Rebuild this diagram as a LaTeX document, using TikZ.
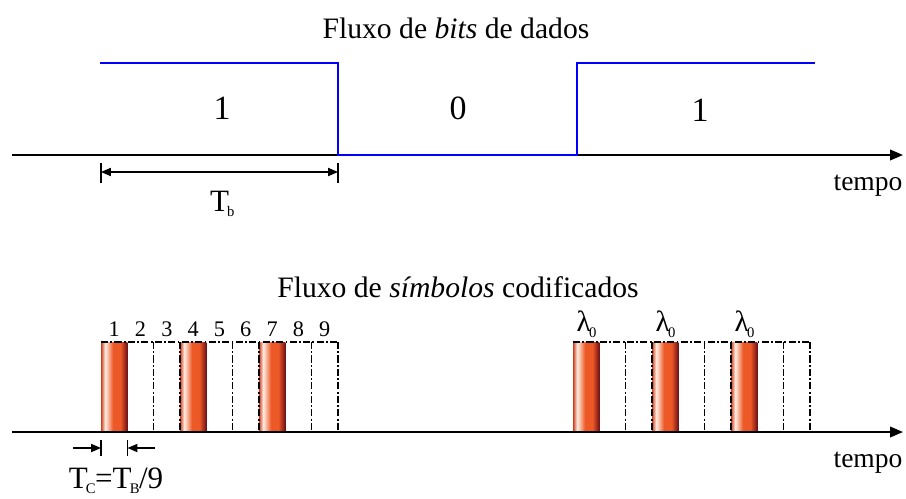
\documentclass[tikz,border=0pt]{standalone}
\usepackage{fontspec}
\setmainfont{Liberation Serif}
\usepackage{xcolor}
\usetikzlibrary{positioning}
\usetikzlibrary{arrows.meta}

\definecolor{barleft}{RGB}{205,62,28}
\definecolor{barlight}{RGB}{255,238,228}
\definecolor{barmid}{RGB}{236,88,38}
\definecolor{bardark}{RGB}{112,16,22}
\pgfdeclarehorizontalshading{symbolbar}{100bp}{color(0bp)=(barleft); color(25bp)=(barleft); color(33bp)=(barlight); color(48bp)=(barmid); color(62bp)=(barmid); color(75bp)=(bardark); color(100bp)=(bardark)}

\newcommand{\lowsub}[2]{\kern-1.5pt\raisebox{-#2}{\fontsize{12.5}{12.5}\selectfont #1}\kern-0.5pt}

\begin{document}
\begin{tikzpicture}[x=0.03cm, y=-0.03cm,
  title/.style={inner sep=0pt, font=\fontsize{25.3}{28}\selectfont},
  timeword/.style={inner sep=0pt, font=\fontsize{23.5}{26}\selectfont},
  bigdigit/.style={inner sep=0pt, font=\fontsize{29}{32}\selectfont},
  slotdigit/.style={inner sep=0pt, font=\fontsize{19}{22}\selectfont},
  lambdalbl/.style={inner sep=0pt, font=\fontsize{25}{28}\selectfont},
  timelbl/.style={inner sep=0pt, font=\fontsize{26.5}{30}\selectfont},
  axis/.style={line width=1.5pt, -{Triangle[length=11pt, width=9pt]}},
  signal/.style={blue, line width=1.4pt},
  dimline/.style={line width=1.1pt, {Triangle[length=8.5pt, width=7pt]}-{Triangle[length=8.5pt, width=7pt]}},
  halfdim/.style={line width=1.1pt, -{Triangle[length=8.5pt, width=7pt]}},
  dimtick/.style={line width=1.1pt},
  slotline/.style={line width=1pt, dash pattern=on 6pt off 2pt on 1.5pt off 2pt},
  bar/.style={shading=symbolbar}
]
\useasboundingbox (0,0) rectangle (906,498);

% bit stream
\node[title] (bitstitle) at (456,28) {Fluxo de \textit{bits} de dados};
\coordinate (axisAstart) at (12,155);
\coordinate (axisAend) at (903,155);
\draw[axis] (axisAstart) -- (axisAend);
\draw[signal] (100,63) -- (338,63) -- (338,155) -- (577,155) -- (577,63) -- (815,63);
\node[bigdigit] (bitfirst) at (222,108) {1};
\node[bigdigit] (bitsecond) at (458,108) {0};
\node[bigdigit] (bitthird) at (700,110) {1};
\node[timeword] (tempoA) at (868,186) {tempo};

\coordinate (tbL) at (101,172);
\coordinate (tbR) at (338,172);
\draw[dimtick] (101,163) -- (101,183);
\draw[dimtick] (338,163) -- (338,183);
\draw[dimline] (tbL) -- (tbR);
\node[timelbl] (tb) at (222,204) {T\lowsub{b}{4pt}};

% symbol stream
\node[title] (symtitle) at (458,287) {Fluxo de \textit{símbolos} codificados};
\coordinate (axisBstart) at (12,432);
\coordinate (axisBend) at (903,432);
\foreach \x in {101,573} {
  \foreach \k in {0,3,6}
    \fill[bar] (\x+\k*26.33,342) rectangle ++(26.33,90);
  \foreach \k in {2,3,5,6,8,9}
    \draw[slotline] (\x+\k*26.33,342) -- (\x+\k*26.33,432);
  \draw[slotline] (\x,342) -- (\x+237,342);
}
\draw[axis] (axisBstart) -- (axisBend);
\foreach \k in {1,...,9}
  \node[slotdigit] (digit\k) at (101+\k*26.33-13.17,329) {\k};
\foreach \k in {0,3,6}
  \node[lambdalbl] (lambda\k) at (573+\k*26.33+13.17,324) {λ\lowsub{0}{5pt}};
\node[timeword] (tempoB) at (868,463) {tempo};

\coordinate (tcL) at (101,448);
\coordinate (tcR) at (127.5,448);
\coordinate (tcLfrom) at (73,448);
\coordinate (tcRfrom) at (155,448);
\draw[dimtick] (101,440) -- (101,456);
\draw[dimtick] (127.5,440) -- (127.5,456);
\draw[halfdim] (tcLfrom) -- (tcL);
\draw[halfdim] (tcRfrom) -- (tcR);
\node[timelbl] (tc) at (116,481) {T\lowsub{C}{4.5pt}=T\lowsub{B}{4.5pt}/9};
\end{tikzpicture}
\end{document}
